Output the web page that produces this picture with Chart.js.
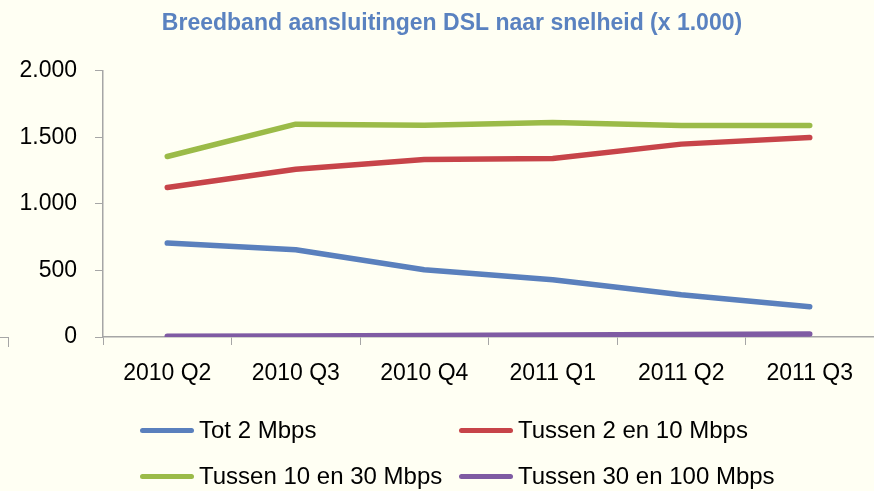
<!DOCTYPE html>
<html>
<head>
<meta charset="utf-8">
<script src="https://cdn.jsdelivr.net/npm/chart.js@4"></script>
<style>
    body { margin: 0; background: #fffff3; font-family: 'Liberation Sans', Arial, sans-serif; }
    #wrap { position: relative; width: 874px; height: 491px; overflow: hidden; }
    #legenda { position: absolute; left: 140px; top: 407px; display: grid; grid-template-columns: 319px 319px; grid-auto-rows: 46px; }
    .item { display: flex; align-items: center; font-size: 24px; color: #000; white-space: nowrap; }
    .lijn { width: 54px; height: 5px; border-radius: 3px; margin-right: 5px; }
    #hoek { position: absolute; left: 0; top: 337px; width: 8px; height: 9px; border-top: 1px solid #a6a6a6; border-right: 1px solid #a6a6a6; }
</style>
</head>
<body>
<div id="wrap">
    <canvas id="grafiek" width="904" height="491"></canvas>
    <div id="hoek"></div>
    <div id="legenda"></div>
</div>
<script>
const kwartalen = ['2010 Q2', '2010 Q3', '2010 Q4', '2011 Q1', '2011 Q2', '2011 Q3'];
const tot2Mbps = [705, 655, 505, 430, 317, 227];
const tussen2en10 = [1122, 1260, 1332, 1340, 1448, 1497];
const tussen10en30 = [1355, 1598, 1590, 1610, 1587, 1587];
const tussen30en100 = [5, 8, 12, 15, 19, 23];
const yWaarden = [0, 500, 1000, 1500, 2000];
const namen = ['Tot 2 Mbps', 'Tussen 2 en 10 Mbps', 'Tussen 10 en 30 Mbps', 'Tussen 30 en 100 Mbps'];
const kleuren = ['#5a80bd', '#c74449', '#9bbb48', '#7f5ba3'];

const reeksen = [tot2Mbps, tussen2en10, tussen10en30, tussen30en100];

function maakDataset(waarden, i) {
    return {
        label: namen[i],
        data: waarden,
        borderColor: kleuren[i],
        backgroundColor: kleuren[i],
        borderWidth: 5.5,
        borderCapStyle: 'round',
        borderJoinStyle: 'round',
        pointRadius: 0,
        tension: 0
    };
}

function formatGetal(v) {
    return v.toString().replace(/\B(?=(\d{3})+(?!\d))/g, '.');
}

const asKleur = '#a6a6a6';

new Chart(document.getElementById('grafiek'), {
    type: 'line',
    data: {
        labels: kwartalen,
        datasets: reeksen.map(maakDataset)
    },
    options: {
        responsive: false,
        animation: false,
        layout: { padding: 0 },
        plugins: {
            legend: { display: false },
            tooltip: { enabled: false },
            title: {
                display: true,
                text: 'Breedband aansluitingen DSL naar snelheid (x 1.000)',
                color: '#5a82c0',
                font: { family: 'Liberation Sans', size: 23, weight: 'bold' },
                padding: { top: 10, bottom: 33 }
            }
        },
        scales: {
            x: {
                offset: true,
                grid: { offset: true, drawOnChartArea: false, color: asKleur, tickLength: 8 },
                border: { color: asKleur, width: 1.5 },
                ticks: {
                    color: '#000',
                    font: { family: 'Liberation Sans', size: 23 },
                    padding: 15,
                    maxRotation: 0
                },
                afterFit: scale => {
                    scale.height = 154;
                    scale.paddingRight = 30;
                }
            },
            y: {
                min: 0,
                max: 2000,
                afterBuildTicks: scale => { scale.ticks = yWaarden.map(v => ({ value: v })); },
                grid: { drawOnChartArea: false, color: asKleur, tickLength: 8 },
                border: { color: asKleur, width: 1.5 },
                ticks: {
                    color: '#000',
                    font: { family: 'Liberation Sans', size: 23 },
                    padding: 18,
                    callback: v => formatGetal(v)
                },
                afterFit: scale => { scale.width = 103; }
            }
        }
    }
});

const legenda = document.getElementById('legenda');
namen.forEach((naam, i) => {
    const item = document.createElement('div');
    item.className = 'item';
    item.innerHTML = `<span class="lijn" style="background:${kleuren[i]}"></span><span>${naam}</span>`;
    legenda.appendChild(item);
});
</script>
</body>
</html>
